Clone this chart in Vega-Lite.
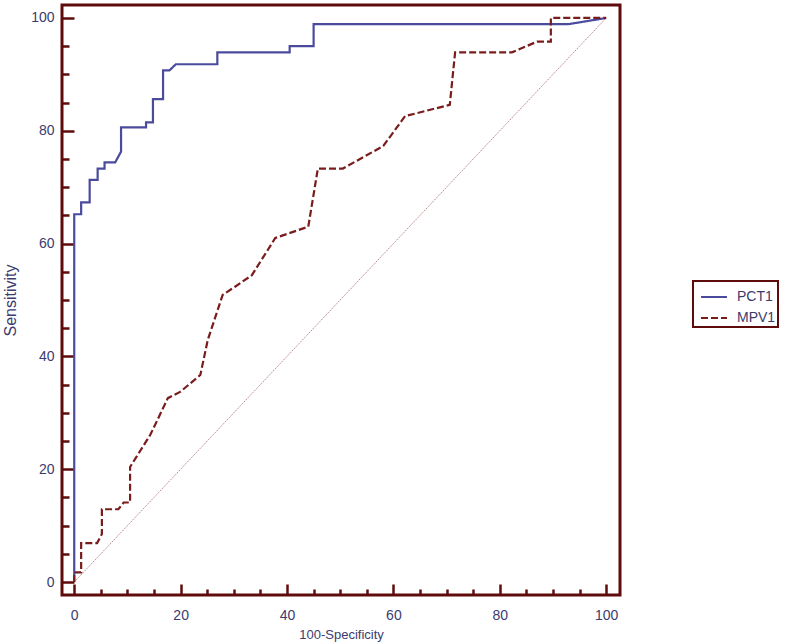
{
  "$schema": "https://vega.github.io/schema/vega-lite/v6.json",
  "autosize": "none",
  "width": 558,
  "height": 590,
  "padding": {"left": 62, "top": 5, "right": 167, "bottom": 49},
  "background": "white",
  "config": {
    "view": {"stroke": "#5e0b0b", "strokeWidth": 3},
    "font": "Liberation Sans",
    "legend": {"strokeWidth": 2},
    "axis": {
      "domain": false,
      "grid": false,
      "ticks": true,
      "zindex": 1,
      "tickColor": "#5e0b0b",
      "tickWidth": 2.5,
      "labelColor": "#3b3b6e",
      "labelFont": "Liberation Sans",
      "labelFontSize": 14,
      "titleColor": "#3b3b6e",
      "titleFont": "Liberation Sans",
      "titleFontSize": 13,
      "titleFontWeight": "normal"
    }
  },
  "datasets": {
    "roc": [
      {"curve": "PCT1", "i": 0, "fpr": 0, "tpr": 0},
      {"curve": "PCT1", "i": 1, "fpr": 0, "tpr": 65.2},
      {"curve": "PCT1", "i": 2, "fpr": 1.3, "tpr": 65.2},
      {"curve": "PCT1", "i": 3, "fpr": 1.3, "tpr": 67.3},
      {"curve": "PCT1", "i": 4, "fpr": 2.9, "tpr": 67.3},
      {"curve": "PCT1", "i": 5, "fpr": 2.9, "tpr": 71.3},
      {"curve": "PCT1", "i": 6, "fpr": 4.4, "tpr": 71.3},
      {"curve": "PCT1", "i": 7, "fpr": 4.4, "tpr": 73.3},
      {"curve": "PCT1", "i": 8, "fpr": 5.7, "tpr": 73.3},
      {"curve": "PCT1", "i": 9, "fpr": 5.7, "tpr": 74.4},
      {"curve": "PCT1", "i": 10, "fpr": 7.7, "tpr": 74.4},
      {"curve": "PCT1", "i": 11, "fpr": 8.8, "tpr": 76.3},
      {"curve": "PCT1", "i": 12, "fpr": 8.8, "tpr": 80.6},
      {"curve": "PCT1", "i": 13, "fpr": 13.5, "tpr": 80.6},
      {"curve": "PCT1", "i": 14, "fpr": 13.5, "tpr": 81.5},
      {"curve": "PCT1", "i": 15, "fpr": 14.8, "tpr": 81.5},
      {"curve": "PCT1", "i": 16, "fpr": 14.8, "tpr": 85.6},
      {"curve": "PCT1", "i": 17, "fpr": 16.7, "tpr": 85.6},
      {"curve": "PCT1", "i": 18, "fpr": 16.7, "tpr": 90.7},
      {"curve": "PCT1", "i": 19, "fpr": 17.9, "tpr": 90.7},
      {"curve": "PCT1", "i": 20, "fpr": 19.1, "tpr": 91.8},
      {"curve": "PCT1", "i": 21, "fpr": 26.9, "tpr": 91.8},
      {"curve": "PCT1", "i": 22, "fpr": 26.9, "tpr": 93.9},
      {"curve": "PCT1", "i": 23, "fpr": 40.5, "tpr": 93.9},
      {"curve": "PCT1", "i": 24, "fpr": 40.5, "tpr": 95.0},
      {"curve": "PCT1", "i": 25, "fpr": 45.0, "tpr": 95.0},
      {"curve": "PCT1", "i": 26, "fpr": 45.0, "tpr": 98.9},
      {"curve": "PCT1", "i": 27, "fpr": 92.9, "tpr": 98.9},
      {"curve": "PCT1", "i": 28, "fpr": 100, "tpr": 100},
      {"curve": "MPV1", "i": 0, "fpr": 0, "tpr": 0},
      {"curve": "MPV1", "i": 1, "fpr": 0, "tpr": 1.7},
      {"curve": "MPV1", "i": 2, "fpr": 1.3, "tpr": 1.7},
      {"curve": "MPV1", "i": 3, "fpr": 1.3, "tpr": 6.9},
      {"curve": "MPV1", "i": 4, "fpr": 4.3, "tpr": 6.9},
      {"curve": "MPV1", "i": 5, "fpr": 5.2, "tpr": 8.5},
      {"curve": "MPV1", "i": 6, "fpr": 5.2, "tpr": 12.9},
      {"curve": "MPV1", "i": 7, "fpr": 8.3, "tpr": 12.9},
      {"curve": "MPV1", "i": 8, "fpr": 9.3, "tpr": 14.1},
      {"curve": "MPV1", "i": 9, "fpr": 10.5, "tpr": 14.1},
      {"curve": "MPV1", "i": 10, "fpr": 10.5, "tpr": 20.4},
      {"curve": "MPV1", "i": 11, "fpr": 14.3, "tpr": 26.1},
      {"curve": "MPV1", "i": 12, "fpr": 17.6, "tpr": 32.6},
      {"curve": "MPV1", "i": 13, "fpr": 19.9, "tpr": 33.7},
      {"curve": "MPV1", "i": 14, "fpr": 23.7, "tpr": 36.7},
      {"curve": "MPV1", "i": 15, "fpr": 25.1, "tpr": 42.9},
      {"curve": "MPV1", "i": 16, "fpr": 27.9, "tpr": 50.9},
      {"curve": "MPV1", "i": 17, "fpr": 30.3, "tpr": 52.4},
      {"curve": "MPV1", "i": 18, "fpr": 33.4, "tpr": 54.4},
      {"curve": "MPV1", "i": 19, "fpr": 37.8, "tpr": 61.0},
      {"curve": "MPV1", "i": 20, "fpr": 44.0, "tpr": 63.0},
      {"curve": "MPV1", "i": 21, "fpr": 45.8, "tpr": 73.3},
      {"curve": "MPV1", "i": 22, "fpr": 50.5, "tpr": 73.3},
      {"curve": "MPV1", "i": 23, "fpr": 58.1, "tpr": 77.3},
      {"curve": "MPV1", "i": 24, "fpr": 62.2, "tpr": 82.6},
      {"curve": "MPV1", "i": 25, "fpr": 70.6, "tpr": 84.6},
      {"curve": "MPV1", "i": 26, "fpr": 71.6, "tpr": 93.9},
      {"curve": "MPV1", "i": 27, "fpr": 82.3, "tpr": 93.9},
      {"curve": "MPV1", "i": 28, "fpr": 87.0, "tpr": 95.8},
      {"curve": "MPV1", "i": 29, "fpr": 89.6, "tpr": 95.8},
      {"curve": "MPV1", "i": 30, "fpr": 89.6, "tpr": 100},
      {"curve": "MPV1", "i": 31, "fpr": 100, "tpr": 100}
    ],
    "diag": [
      {"fpr": 0, "tpr": 0},
      {"fpr": 100, "tpr": 100}
    ]
  },
  "encoding": {
    "x": {"field": "fpr", "type": "quantitative", "scale": {"domain": [-2.3, 102.6], "nice": false, "zero": false},
      "axis": {
        "title": "100-Specificity",
        "values": [0, 5, 10, 15, 20, 25, 30, 35, 40, 45, 50, 55, 60, 65, 70, 75, 80, 85, 90, 95, 100],
        "labelExpr": "datum.value % 20 === 0 ? datum.label : ''",
        "tickSize": {"expr": "datum.value % 20 === 0 ? -11 : -6"},
        "labelPadding": 24,
        "titlePadding": 6
      }},
    "y": {"field": "tpr", "type": "quantitative", "scale": {"domain": [-2.3, 102.3], "nice": false, "zero": false},
      "axis": {
        "title": "Sensitivity",
        "titleFontSize": 16,
        "values": [0, 5, 10, 15, 20, 25, 30, 35, 40, 45, 50, 55, 60, 65, 70, 75, 80, 85, 90, 95, 100],
        "labelExpr": "datum.value % 20 === 0 ? datum.label : ''",
        "tickSize": {"expr": "datum.value % 20 === 0 ? -12 : -7"},
        "labelPadding": 20,
        "titlePadding": 12
      }}
  },
  "layer": [
    {
      "data": {"name": "diag"},
      "mark": {"type": "line", "color": "#a86a6a", "strokeWidth": 0.8, "strokeDash": [1.5, 1]}
    },
    {
      "data": {"name": "roc"},
      "mark": {"type": "line", "strokeWidth": 2.2, "interpolate": "linear"},
      "encoding": {
        "order": {"field": "i", "type": "quantitative"},
        "color": {"field": "curve", "type": "nominal",
          "scale": {"domain": ["PCT1", "MPV1"], "range": ["#4b4b9e", "#7a1c1c"]},
          "legend": {
            "title": null, "orient": "none", "legendX": 631, "legendY": 276,
            "strokeColor": "#5e0b0b", "padding": 2,
            "symbolType": "stroke", "symbolSize": 676, "symbolStrokeWidth": 2,
            "symbolOffset": 5,
            "labelFontSize": 14, "labelColor": "#3b3b6e", "labelFont": "Liberation Sans",
            "labelOffset": 9, "rowPadding": 0, "fillColor": "white"
          }},
        "strokeDash": {"field": "curve", "type": "nominal",
          "scale": {"domain": ["PCT1", "MPV1"], "range": [[1, 0], [7, 3]]},
          "legend": null}
      }
    }
  ]
}
